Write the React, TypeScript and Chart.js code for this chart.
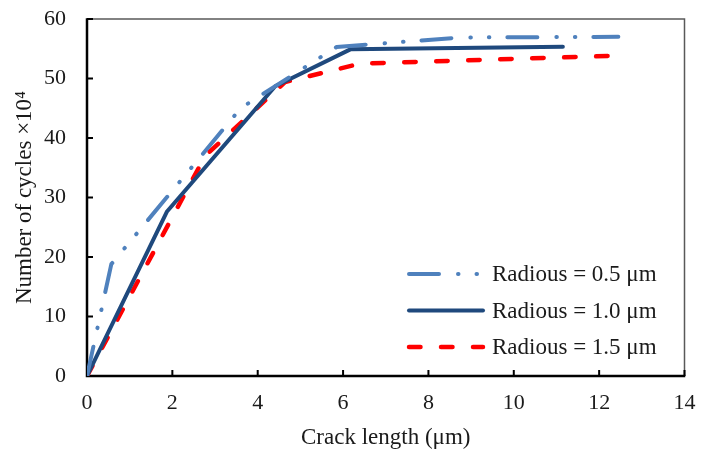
import React, { useEffect, useRef } from "react";
import { Chart, registerables } from "chart.js";

Chart.register(...registerables);

// ---- data ----
const seriesLabels = ["Radious = 0.5 μm", "Radious = 1.0 μm", "Radious = 1.5 μm"];
const r05X = [0, 0.57, 3.6, 5.85, 8.75, 12.45];
const r05Y = [0, 18.8, 45.0, 55.3, 56.9, 57.0];
const r10X = [0, 1.87, 4.41, 6.17, 11.15];
const r10Y = [0, 27.6, 48.7, 54.9, 55.35];
const r15X = [0, 2.77, 4.64, 6.4, 12.25];
const r15Y = [0, 37.0, 49.4, 52.5, 53.8];
const xTitle = "Crack length (μm)";
const yTitle = "Number of cycles ×10⁴";

const FONT = '"Liberation Serif", "Times New Roman", serif';
const TEXT = "#1a1a1a";

const toPts = (xs: number[], ys: number[]) => xs.map((x, i) => ({ x, y: ys[i] }));

const framePlugin = {
  id: "frame",
  beforeDatasetsDraw(chart: any) {
    const { ctx, chartArea: a, scales } = chart;
    const x = scales.x;
    const y = scales.y;
    ctx.save();
    ctx.lineCap = "butt";
    ctx.strokeStyle = "#595959";
    ctx.lineWidth = 1.5;
    ctx.beginPath();
    ctx.moveTo(a.left, a.top);
    ctx.lineTo(a.right, a.top);
    ctx.lineTo(a.right, a.bottom);
    ctx.stroke();
    ctx.strokeStyle = "#000";
    ctx.lineWidth = 2.5;
    ctx.beginPath();
    ctx.moveTo(a.left, a.top - 0.75);
    ctx.lineTo(a.left, a.bottom);
    ctx.lineTo(a.right + 0.75, a.bottom);
    ctx.stroke();
    ctx.lineWidth = 2;
    ctx.beginPath();
    y.ticks.forEach((t: any) => {
      const py = y.getPixelForValue(t.value);
      ctx.moveTo(a.left, py);
      ctx.lineTo(a.left + 6, py);
    });
    x.ticks.forEach((t: any) => {
      const px = x.getPixelForValue(t.value);
      ctx.moveTo(px, a.bottom);
      ctx.lineTo(px, a.bottom - 6);
    });
    ctx.stroke();
    ctx.restore();
  },
};

const legendPlugin = {
  id: "inlineLegend",
  afterDatasetsDraw(chart: any) {
    const { ctx } = chart;
    const rows = [274, 310.5, 347];
    chart.data.datasets.forEach((ds: any, i: number) => {
      const yy = rows[i];
      ctx.save();
      ctx.strokeStyle = ds.borderColor;
      ctx.lineWidth = ds.borderWidth;
      ctx.lineCap = "round";
      ctx.setLineDash(ds.borderDash || []);
      ctx.beginPath();
      ctx.moveTo(409, yy);
      ctx.lineTo(483, yy);
      ctx.stroke();
      ctx.setLineDash([]);
      ctx.fillStyle = TEXT;
      ctx.font = `23px ${FONT}`;
      ctx.textBaseline = "middle";
      ctx.textAlign = "left";
      ctx.fillText(ds.label, 492, yy + 1);
      ctx.restore();
    });
  },
};

export default function App() {
  const ref = useRef<HTMLCanvasElement | null>(null);
  useEffect(() => {
    if (!ref.current) return;
    const chart = new Chart(ref.current, {
      type: "line",
      data: {
        datasets: [
          {
            label: seriesLabels[0],
            data: toPts(r05X, r05Y),
            borderColor: "#4F81BD",
            borderWidth: 4,
            borderDash: [30, 19, 0.5, 18, 0.5, 18],
            borderCapStyle: "round",
            borderJoinStyle: "round",
            pointRadius: 0,
            fill: false,
            tension: 0,
          },
          {
            label: seriesLabels[1],
            data: toPts(r10X, r10Y),
            borderColor: "#1F497D",
            borderWidth: 4,
            borderCapStyle: "round",
            borderJoinStyle: "round",
            pointRadius: 0,
            fill: false,
            tension: 0,
          },
          {
            label: seriesLabels[2],
            data: toPts(r15X, r15Y),
            borderColor: "#FF0000",
            borderWidth: 4.5,
            borderDash: [11.5, 20.5],
            borderCapStyle: "round",
            borderJoinStyle: "round",
            pointRadius: 0,
            fill: false,
            tension: 0,
          },
        ],
      },
      options: {
        animation: false,
        responsive: false,
        devicePixelRatio: 1,
        layout: { padding: { top: 19, right: 16.5, left: 0, bottom: 0 } },
        plugins: { legend: { display: false }, tooltip: { enabled: false } },
        scales: {
          x: {
            type: "linear",
            min: 0,
            max: 14,
            grid: { display: false, drawTicks: false },
            border: { display: false },
            ticks: {
              stepSize: 2,
              autoSkip: false,
              maxRotation: 0,
              padding: 14,
              color: TEXT,
              font: { family: FONT, size: 22 },
            },
            title: {
              display: true,
              text: xTitle,
              color: TEXT,
              font: { family: FONT, size: 23 },
              padding: { top: 0, bottom: 3 },
            },
            afterFit: (s: any) => {
              s.height = 79;
              s.paddingLeft = 0;
              s.paddingRight = 0;
            },
          },
          y: {
            type: "linear",
            min: 0,
            max: 60,
            grid: { display: false, drawTicks: false },
            border: { display: false },
            ticks: {
              stepSize: 10,
              autoSkip: false,
              padding: 21,
              color: TEXT,
              font: { family: FONT, size: 22 },
            },
            title: {
              display: true,
              text: yTitle,
              color: TEXT,
              font: { family: FONT, size: 23 },
              padding: { top: 11, bottom: 0 },
            },
            afterFit: (s: any) => {
              s.width = 87;
              s.paddingTop = 0;
              s.paddingBottom = 0;
            },
          },
        },
      },
      plugins: [framePlugin, legendPlugin],
    } as any);
    return () => chart.destroy();
  }, []);
  return (
    <div style={{ position: "fixed", left: 0, top: 0, width: 701, height: 455, background: "#fff" }}>
      <canvas ref={ref} width={701} height={455} style={{ display: "block", width: 701, height: 455 }} />
    </div>
  );
}
